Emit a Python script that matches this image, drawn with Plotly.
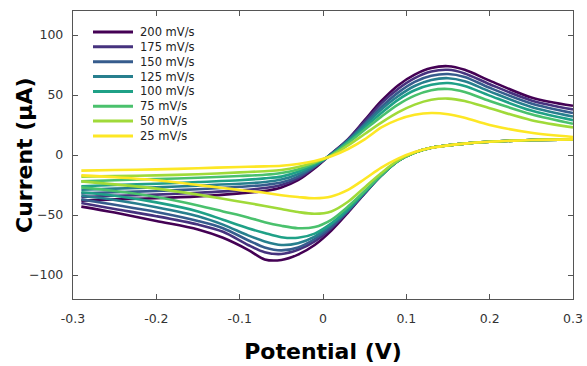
import plotly.graph_objects as go

# ---- data ----
scan_rates = ["200 mV/s", "175 mV/s", "150 mV/s", "125 mV/s",
              "100 mV/s", "75 mV/s", "50 mV/s", "25 mV/s"]
colors = ["#440154", "#46327e", "#365c8d", "#277f8e",
          "#1fa187", "#4ac16d", "#a0da39", "#fde725"]

# forward (anodic) sweep potentials, V
e_fwd = [-0.29, -0.25, -0.2, -0.15, -0.1, -0.07, -0.05, -0.03, -0.01, 0.01, 0.03,
         0.05, 0.07, 0.09, 0.11, 0.13, 0.15, 0.17, 0.2, 0.25, 0.3]
# reverse (cathodic) sweep potentials, V
e_rev = [0.3, 0.25, 0.2, 0.17, 0.15, 0.13, 0.11, 0.09, 0.07, 0.05, 0.03, 0.01,
         -0.01, -0.03, -0.05, -0.07, -0.09, -0.12, -0.15, -0.2, -0.25, -0.29]

i_fwd_200 = [-38, -37, -36, -34.5, -32, -30, -27, -21, -11, 1, 13, 29, 45, 58, 67, 72.5, 74, 71, 62, 48, 41]
i_fwd_175 = [-35, -34, -33, -31.5, -29.5, -27.5, -25, -19.5, -10, 1, 13, 28, 43, 55, 64, 69.5, 71, 68, 59, 45.5, 38]
i_fwd_150 = [-32, -31, -30, -28.5, -26.5, -25, -23, -18, -9.5, 1, 12, 26, 40, 52, 61, 66, 67.5, 65, 56, 43, 35]
i_fwd_125 = [-29, -28, -27, -25.5, -24, -22.5, -20.5, -16, -9, 0.5, 12, 25, 38, 49, 57.5, 62.5, 64, 61.5, 53, 40, 32]
i_fwd_100 = [-26, -25, -24, -22.5, -21, -19.5, -18, -14, -8, 0, 11, 23, 35, 46, 54, 58.5, 60, 57.5, 49.5, 37, 29]
i_fwd_75 = [-22, -21, -20, -19, -17.5, -16.5, -15, -12, -7, 0, 10, 21, 32, 42, 49.5, 54, 55, 52.5, 45, 34, 26]
i_fwd_50 = [-18, -17.5, -17, -16, -14.5, -13.5, -12.5, -10, -6, -0.5, 8, 17.5, 27, 35.5, 42, 46, 47, 45, 39, 29, 23]
i_fwd_25 = [-13, -12.5, -12, -11, -10, -9.5, -9, -7.5, -5, -1, 5, 13, 23, 29.5, 33.5, 35, 34, 31, 25, 18.5, 15]

i_rev_200 = [13, 12.5, 11, 9.5, 8, 6, 2, -5, -17, -32, -48, -63, -75, -83, -87.5, -87, -79, -69, -62, -55, -48, -43]
i_rev_175 = [13, 12.5, 11, 9.5, 8, 6, 2, -5, -17, -32, -47, -61, -72, -79, -82.5, -81, -75, -64, -58, -51, -45, -40]
i_rev_150 = [13, 12.5, 11, 9.5, 8, 6, 2, -5, -17, -31.5, -46.5, -60, -70, -77, -79.5, -77, -71, -61, -55, -47.5, -41.5, -37]
i_rev_125 = [13, 12.5, 11, 9.5, 8, 6, 2, -5, -17, -31, -46, -58, -68, -73.5, -75, -72, -67, -58, -51, -43.5, -37.5, -34]
i_rev_100 = [13, 12.5, 11, 9.5, 8, 6, 2, -5, -17, -31, -45, -57, -65.5, -69, -68.5, -65, -61, -54, -47, -39.5, -34, -31]
i_rev_75 = [13, 12.5, 11, 9.5, 8, 6, 2, -5, -16.5, -30, -43, -54, -60, -61, -59, -56, -52, -47, -42, -35, -30, -27]
i_rev_50 = [13, 12.5, 11, 9.5, 8, 6, 2, -4.5, -15, -27, -39, -47, -49, -47.5, -45, -42.5, -40, -36.5, -33, -28, -24.5, -22]
i_rev_25 = [13, 12.5, 11, 9.5, 8, 6, 2.5, -3, -10.5, -20, -29, -34.5, -36, -35, -33.5, -31.5, -30, -27.5, -25, -21, -18.5, -17]

fwd = [i_fwd_200, i_fwd_175, i_fwd_150, i_fwd_125, i_fwd_100, i_fwd_75, i_fwd_50, i_fwd_25]
rev = [i_rev_200, i_rev_175, i_rev_150, i_rev_125, i_rev_100, i_rev_75, i_rev_50, i_rev_25]

x_ticks = [-0.3, -0.2, -0.1, 0, 0.1, 0.2, 0.3]
x_tick_text = ["-0.3", "-0.2", "-0.1", "0", "0.1", "0.2", "0.3"]
y_ticks = [-100, -50, 0, 50, 100]

fig = go.Figure()
for name, col, f, r in zip(scan_rates, colors, fwd, rev):
    fig.add_trace(go.Scatter(
        x=e_fwd + [None] + e_rev,
        y=f + [None] + r,
        mode="lines", name=name,
        line=dict(color=col, width=2.6, shape="spline", smoothing=0.9),
        connectgaps=False, showlegend=False))

# ---- compact legend (top-left, inside the plot area) ----
PL, PR, PT, PB = 73, 573, 11, 299


def px_to_paper(px, py):
    return (px - PL) / (PR - PL), (PB - py) / (PB - PT)


shapes = []
annotations = []
for k, (name, col) in enumerate(zip(scan_rates, colors)):
    py = 32 + 14.85 * k
    x0, y0 = px_to_paper(93, py)
    x1, _ = px_to_paper(133, py)
    xt, _ = px_to_paper(138, py)
    shapes.append(dict(type="line", xref="paper", yref="paper",
                       x0=x0, x1=x1, y0=y0, y1=y0,
                       line=dict(color=col, width=3)))
    annotations.append(dict(xref="paper", yref="paper", x=xt, y=y0,
                            text=name, showarrow=False, xanchor="left",
                            yanchor="middle",
                            font=dict(family="DejaVu Sans", size=11.5, color="#222")))

# y-axis title placed close to the tick labels, as in the reference
ytx, yty = px_to_paper(24, 155)
annotations.append(dict(xref="paper", yref="paper", x=ytx, y=yty,
                        text="Current (µA)", textangle=-90, showarrow=False,
                        xanchor="center", yanchor="middle",
                        font=dict(family="DejaVu Sans", size=22, color="black",
                                  weight="bold")))

axis_common = dict(
    showline=True, linecolor="#555", linewidth=1.4, mirror="ticks",
    ticks="inside", ticklen=5, tickwidth=1.2, tickcolor="#555",
    showgrid=False, zeroline=False, automargin=False,
    tickfont=dict(family="DejaVu Sans", size=12.5, color="#333"),
)

fig.update_layout(
    template="none",
    width=587, height=366,
    margin=dict(l=PL, r=587 - PR, t=PT, b=366 - PB, pad=0),
    paper_bgcolor="white", plot_bgcolor="white",
    showlegend=False,
    shapes=shapes, annotations=annotations,
    xaxis=dict(range=[-0.3, 0.3], tickvals=x_ticks, ticktext=x_tick_text,
               ticklabelstandoff=8,
               title=dict(text="Potential (V)", standoff=18,
                          font=dict(family="DejaVu Sans", size=22, color="black",
                                    weight="bold")),
               **axis_common),
    yaxis=dict(range=[-120, 120], tickvals=y_ticks,
               ticklabelstandoff=6,
               **axis_common),
)

fig.write_html("out.html")
